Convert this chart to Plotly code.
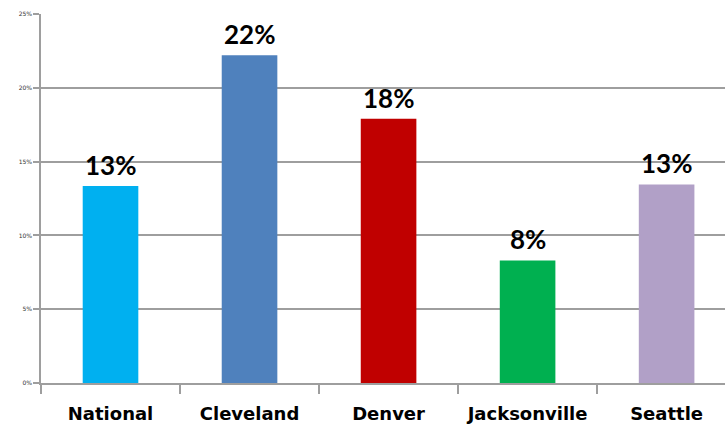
import plotly.graph_objects as go

categories = ["National", "Cleveland", "Denver", "Jacksonville", "Seattle"]
values = [13.35, 22.2, 17.9, 8.3, 13.45]
labels = ["13%", "22%", "18%", "8%", "13%"]
colors = ["#00B0F0", "#4F81BD", "#C00000", "#00B050", "#B1A0C7"]
y_ticks = [0, 5, 10, 15, 20, 25]
y_tick_text = ["0%", "5%", "10%", "15%", "20%", "25%"]

fig = go.Figure()
fig.add_trace(go.Bar(
    x=categories, y=values, marker=dict(color=colors, line=dict(width=0)),
    width=0.4, hoverinfo="skip",
))
for c, v, t in zip(categories, values, labels):
    fig.add_annotation(x=c, y=v, text=t, showarrow=False, yanchor="bottom",
                       yshift=3, font=dict(family="Lato", size=26, color="#000000", weight="bold"))

fig.update_layout(
    width=725, height=427,
    margin=dict(l=41, r=0, t=14, b=44),
    paper_bgcolor="white", plot_bgcolor="white",
    showlegend=False,
    xaxis=dict(
        range=[-0.5, 4.42], showline=True, linecolor="#9e9e9e", linewidth=1.5,
        ticks="outside", tickson="boundaries", ticklen=9, tickcolor="#9e9e9e", tickwidth=1.5,
        tickfont=dict(family="DejaVu Sans", size=18, color="#000000", weight="bold"),
        ticklabelstandoff=14, showgrid=False, fixedrange=True, automargin=False,
    ),
    yaxis=dict(
        range=[0, 25], tickvals=y_ticks, ticktext=y_tick_text,
        showline=True, linecolor="#9e9e9e", linewidth=1.5,
        ticks="outside", ticklen=6, tickcolor="#9e9e9e", tickwidth=1.5,
        showgrid=True, gridcolor="#9e9e9e", gridwidth=1.5,
        tickfont=dict(family="DejaVu Sans", size=6, color="#333333"),
        zeroline=False, fixedrange=True, automargin=False,
    ),
)
fig.write_html("out.html", config={"displayModeBar": False},
               post_script="document.body.style.margin='0';")
